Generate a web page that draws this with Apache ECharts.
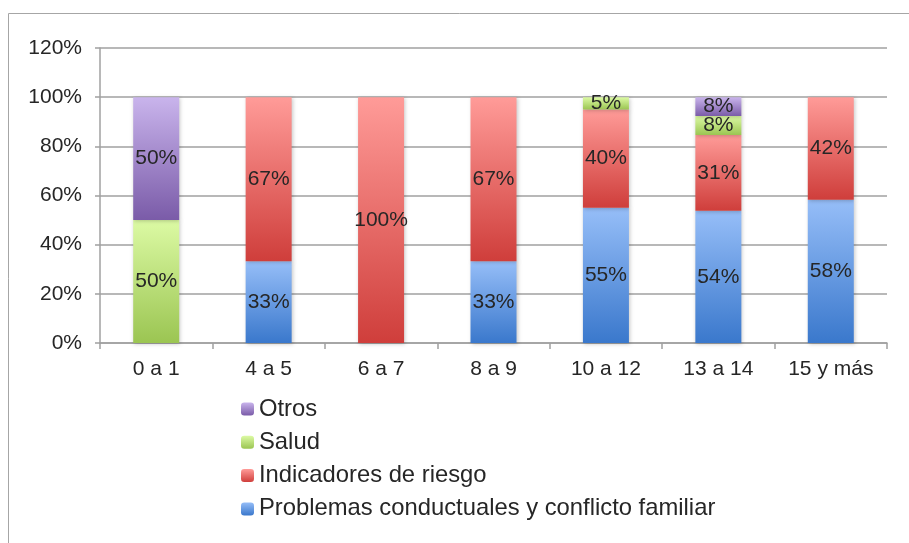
<!DOCTYPE html>
<html>
<head>
<meta charset="utf-8">
<script src="https://cdn.jsdelivr.net/npm/echarts@6/dist/echarts.min.js"></script>
<style>
  html, body { margin: 0; padding: 0; background: #fff; }
  #chart { width: 909px; height: 543px; }
</style>
</head>
<body>
<div id="chart"></div>
<script>
// edades
const categories = ['0 a 1', '4 a 5', '6 a 7', '8 a 9', '10 a 12', '13 a 14', '15 y más']

// porcentajes por grupo (0 = sin barra)
const problemas = [0, 33.3, 0, 33.3, 55, 53.8, 58.3]
const indicadores = [0, 66.7, 100, 66.7, 40, 30.8, 41.7]
const salud = [50, 0, 0, 0, 5, 7.7, 0]
const otros = [50, 0, 0, 0, 0, 7.7, 0]

const yTicks = [0, 20, 40, 60, 80, 100, 120]

const grad = (top, bottom) => new echarts.graphic.LinearGradient(0, 0, 0, 1, [
  { offset: 0, color: top },
  { offset: 1, color: bottom }
])

const font = 'Liberation Sans, Arial, sans-serif'

function makeSeries (name, data, top, bottom) {
  return {
    name: name,
    type: 'bar',
    stack: 'total',
    barWidth: 46,
    data: data,
    itemStyle: {
      color: grad(top, bottom),
      shadowBlur: 4,
      shadowColor: 'rgba(0,0,0,0.22)',
      shadowOffsetX: 1,
      shadowOffsetY: 1
    },
    label: {
      show: true,
      position: 'inside',
      color: '#262626',
      fontFamily: font,
      fontSize: 21,
      formatter: p => p.value > 0 ? Math.round(p.value) + '%' : ''
    },
    emphasis: { disabled: true }
  }
}

const chart = echarts.init(document.getElementById('chart'))
chart.setOption({
  animation: false,
  graphic: [{
    type: 'rect',
    shape: { x: 8.5, y: 13.5, width: 1000, height: 1000 },
    style: { fill: 'none', stroke: '#a6a6a6', lineWidth: 1 },
    silent: true
  }],
  grid: { left: 100, right: 22, top: 48, bottom: 200 },
  legend: {
    orient: 'vertical',
    left: 236,
    top: 392,
    itemWidth: 13,
    itemHeight: 13,
    itemGap: 9.3,
    textStyle: { color: '#262626', fontFamily: font, fontSize: 23.8 },
    data: ['Otros', 'Salud', 'Indicadores de riesgo', 'Problemas conductuales y conflicto familiar']
  },
  xAxis: {
    type: 'category',
    data: categories,
    axisLine: { lineStyle: { color: '#a0a0a0', width: 1.5 } },
    axisTick: { show: true, length: 6, lineStyle: { color: '#a0a0a0', width: 1.5 } },
    axisLabel: { color: '#262626', fontFamily: font, fontSize: 21, margin: 16 }
  },
  yAxis: {
    type: 'value',
    min: yTicks[0],
    max: yTicks[yTicks.length - 1],
    interval: yTicks[1] - yTicks[0],
    axisLine: { show: true, lineStyle: { color: '#a0a0a0', width: 1.5 } },
    axisTick: { show: true, length: 5, lineStyle: { color: '#a0a0a0', width: 1.5 } },
    splitLine: { lineStyle: { color: '#a0a0a0', width: 1.5 } },
    axisLabel: { color: '#262626', fontFamily: font, fontSize: 21, margin: 18, formatter: '{value}%' }
  },
  series: [
    makeSeries('Problemas conductuales y conflicto familiar', problemas, '#96bef8', '#3a78cc'),
    makeSeries('Indicadores de riesgo', indicadores, '#ff9b98', '#cf3e3b'),
    makeSeries('Salud', salud, '#dcfaa4', '#9bc552'),
    makeSeries('Otros', otros, '#c9b4ec', '#7a5ba8')
  ]
})
</script>
</body>
</html>
